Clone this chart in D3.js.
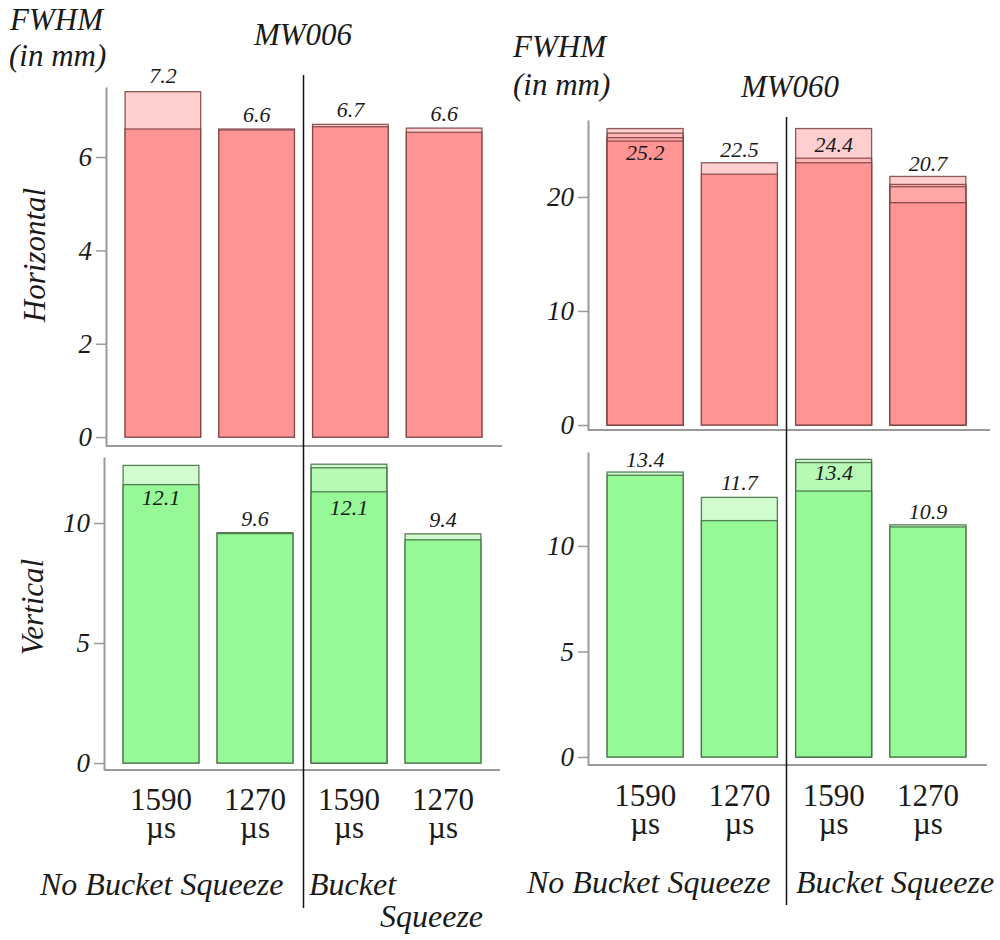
<!DOCTYPE html>
<html>
<head>
<meta charset="utf-8">
<script src="https://cdn.jsdelivr.net/npm/d3@7"></script>
<style>
    body { margin: 0; background: #fff; }
</style>
</head>
<body>
<svg id="drawing_region" width="1000" height="940"></svg>
<script>
// categories along x (same for all four panels)
const categories = ['NBS 1590', 'NBS 1270', 'BS 1590', 'BS 1270'];
const tick_labels = ['1590', '1270', '1590', '1270'];
const tick_unit = 'µs';
const group_labels = ['No Bucket Squeeze', 'Bucket Squeeze'];

// individual measurements per category (overlaid bars) and the printed mean
const mw006_h_values = [[7.4, 6.6], [6.6, 6.58], [6.7, 6.65], [6.62, 6.53]];
const mw006_h_labels = [7.2, 6.6, 6.7, 6.6];
const mw006_v_values = [[12.4, 11.6], [9.6, 9.56], [12.45, 12.3, 11.3], [9.55, 9.3]];
const mw006_v_labels = [12.1, 9.6, 12.1, 9.4];
const mw060_h_values = [[26.0, 25.6, 25.2, 24.9], [23.0, 22.0], [26.0, 23.4, 23.0], [21.8, 21.1, 20.9, 19.5]];
const mw060_h_labels = [25.2, 22.5, 24.4, 20.7];
const mw060_v_values = [[13.5, 13.35], [12.3, 11.2], [14.1, 13.95, 12.6], [11.0, 10.9]];
const mw060_v_labels = [13.4, 11.7, 13.4, 10.9];

const mw006_h_ticks = [0, 2, 4, 6];
const mw006_v_ticks = [0, 5, 10];
const mw060_h_ticks = [0, 10, 20];
const mw060_v_ticks = [0, 5, 10];

const INK = '#1a1a1a';
const svg = d3.select('#drawing_region');

// serif text; anchoring is done by hand from the measured width
function serif( sel, size, italic, anchor ) {
    sel.attr('font-family', 'Liberation Serif')
        .attr('font-size', size)
        .attr('font-style', italic ? 'italic' : 'normal')
        .attr('fill', INK)
        .attr('text-anchor', null)
        .each(function() {
            const w = this.getComputedTextLength();
            const x = +this.getAttribute('x') || 0;
            const shift = anchor == 'middle' ? w / 2 : anchor == 'end' ? w : 0;
            this.setAttribute('x', x - shift);
        });
    return sel;
}

class OverlayBars {

    constructor( config, values, labels, ticks ) {
        this.config = config;
        this.values = values;
        this.labels = labels;
        this.ticks = ticks;
        this.init();
    }

    init() {
        let self = this;
        let c = self.config;

        self.chart = svg.append('g');

        self.xscale = d3.scaleBand()
            .domain(categories)
            .range(c.xrange)
            .paddingInner(0.194)
            .paddingOuter(0.097);

        self.yscale = d3.scaleLinear()
            .domain(c.ydomain)
            .range(c.yrange);

        self.yaxis = d3.axisLeft(self.yscale)
            .tickValues(self.ticks)
            .tickSizeInner(10)
            .tickSizeOuter(0)
            .tickPadding(4);
    }

    render() {
        let self = this;
        let c = self.config;
        const y0 = self.yscale(0);

        // baseline under the bars
        self.chart.append('line')
            .attr('x1', c.axis_x).attr('x2', c.base_end)
            .attr('y1', c.yrange[0]).attr('y2', c.yrange[0])
            .attr('stroke', '#9a9a9a').attr('stroke-width', 2);

        const rows = self.values.map((v, i) => ({ cat: categories[i], vals: v.slice().sort((a, b) => b - a) }));

        self.chart.selectAll('g.bar')
            .data(rows)
            .join('g')
            .attr('class', 'bar')
            .selectAll('rect')
            .data(d => d.vals.map((v, j) => ({ cat: d.cat, v: v, last: j == d.vals.length - 1 })))
            .join('rect')
            .attr('x', d => self.xscale(d.cat))
            .attr('y', d => self.yscale(d.v))
            .attr('width', self.xscale.bandwidth())
            .attr('height', d => y0 - self.yscale(d.v))
            .attr('fill', c.color)
            .attr('fill-opacity', d => d.last ? 1 : 0.45)
            .attr('stroke', c.stroke)
            .attr('stroke-opacity', 0.85)
            .attr('stroke-width', 1.3);

        // mean labels
        self.chart.selectAll('text.val')
            .data(self.labels)
            .join('text')
            .attr('class', 'val')
            .attr('x', (d, i) => self.xscale(categories[i]) + self.xscale.bandwidth() / 2)
            .attr('y', (d, i) => self.yscale(d3.max(self.values[i])) + c.label_dy[i])
            .text(d => d.toFixed(1))
            .call(serif, 22, true, 'middle');

        const ag = self.chart.append('g')
            .attr('transform', `translate(${c.axis_x}, 0)`)
            .call(self.yaxis)
            .attr('text-anchor', null)
            .attr('font-family', null);
        ag.select('.domain').attr('stroke', '#9a9a9a').attr('stroke-width', 2);
        ag.selectAll('.tick line').attr('stroke', '#9a9a9a').attr('stroke-width', 1.5);
        ag.selectAll('.tick text').call(serif, 27, true, 'end');

        if (c.xlabels) {
            const xl = self.chart.selectAll('g.xl')
                .data(tick_labels)
                .join('g')
                .attr('transform', (d, i) => `translate(${self.xscale(categories[i]) + self.xscale.bandwidth() / 2}, ${c.xlabel_y})`);
            xl.append('text').text(d => d).call(serif, 31, false, 'middle');
            xl.append('text').attr('y', 28).text(tick_unit).call(serif, 31, false, 'middle');
        }
        return self;
    }

    divider() {
        let self = this;
        return self.xscale(categories[2]) - self.xscale.step() * self.xscale.paddingInner() / 2;
    }
}

const red = '#ff9494', red_stroke = '#7a4040';
const green = '#96f896', green_stroke = '#3f6a3f';

const tl = new OverlayBars({
    xrange: [116, 491], ydomain: [-0.19, 7.5], yrange: [446, 87],
    axis_x: 106, base_end: 502, color: red, stroke: red_stroke,
    label_dy: [-9, -7, -7, -7]
}, mw006_h_values, mw006_h_labels, mw006_h_ticks).render();

const bl = new OverlayBars({
    xrange: [114, 490], ydomain: [-0.29, 12.75], yrange: [770, 457],
    axis_x: 104, base_end: 500, color: green, stroke: green_stroke,
    label_dy: [40, -7, 51, -7], xlabels: true, xlabel_y: 810
}, mw006_v_values, mw006_v_labels, mw006_v_ticks).render();

const tr = new OverlayBars({
    xrange: [598, 975], ydomain: [-0.44, 26.75], yrange: [430, 120],
    axis_x: 588, base_end: 990, color: red, stroke: red_stroke,
    label_dy: [31, -6, 23, -5]
}, mw060_h_values, mw060_h_labels, mw060_h_ticks).render();

const br = new OverlayBars({
    xrange: [598, 975], ydomain: [-0.38, 14.45], yrange: [765, 452],
    axis_x: 588, base_end: 987, color: green, stroke: green_stroke,
    label_dy: [-5, -7, 21, -6], xlabels: true, xlabel_y: 806
}, mw060_v_values, mw060_v_labels, mw060_v_ticks).render();

// vertical dividers between the two groups
svg.append('line')
    .attr('x1', tl.divider()).attr('x2', tl.divider())
    .attr('y1', 75).attr('y2', 908)
    .attr('stroke', '#111').attr('stroke-width', 1.5);
svg.append('line')
    .attr('x1', tr.divider()).attr('x2', tr.divider())
    .attr('y1', 117).attr('y2', 905)
    .attr('stroke', '#111').attr('stroke-width', 1.5);

// titles and side labels
const txt = (x, y, s, size, anchor) => svg.append('text')
    .attr('x', x).attr('y', y)
    .text(s)
    .call(serif, size, true, anchor);

txt(10, 30, 'FWHM', 31);
txt(9, 66, '(in mm)', 31);
txt(303, 45, 'MW006', 31, 'middle');
txt(513, 57, 'FWHM', 31);
txt(513, 95, '(in mm)', 31);
txt(790, 97, 'MW060', 31, 'middle');

svg.append('text')
    .attr('transform', 'translate(45, 255) rotate(-90)')
    .text('Horizontal')
    .call(serif, 31, true, 'middle');
svg.append('text')
    .attr('transform', 'translate(43, 607) rotate(-90)')
    .text('Vertical')
    .call(serif, 31, true, 'middle');

txt(40, 895, group_labels[0], 32);
txt(309, 895, 'Bucket', 32);
txt(380, 927, 'Squeeze', 32);
txt(527, 893, group_labels[0], 32);
txt(796, 893, group_labels[1], 32);
</script>
</body>
</html>
